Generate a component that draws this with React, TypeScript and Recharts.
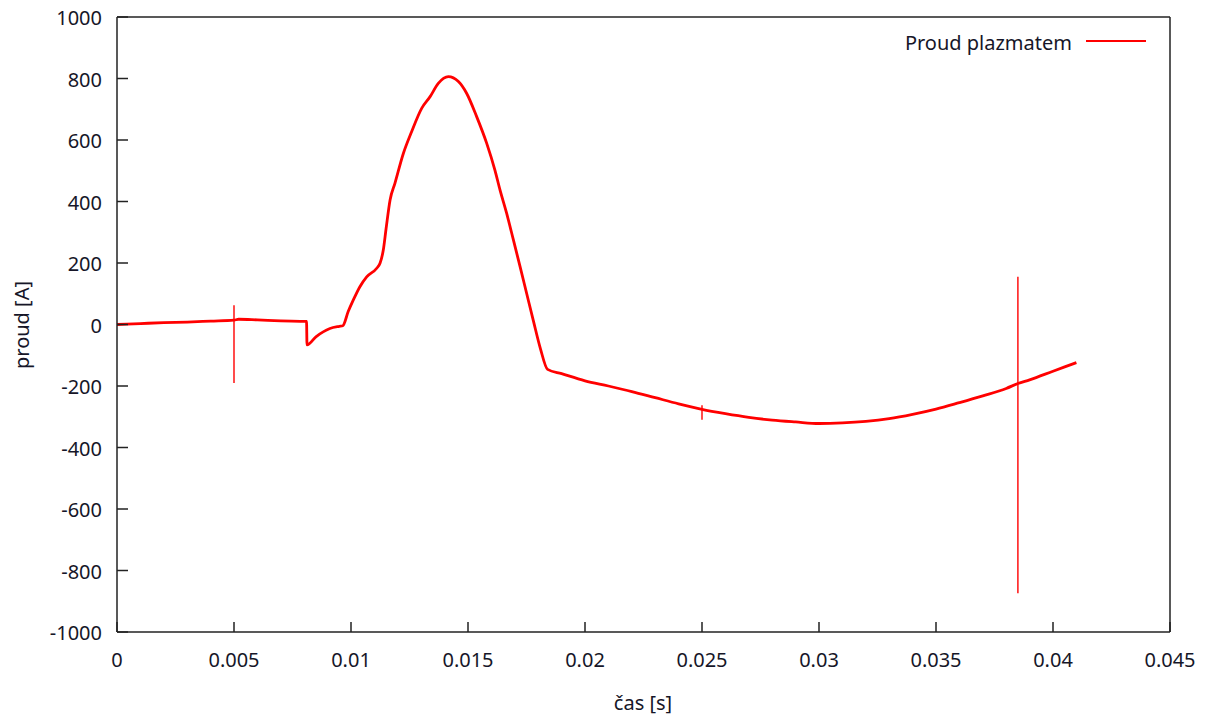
import React from 'react';
import { ComposedChart, Line, XAxis, YAxis } from 'recharts';

const TIME_S = [
  0, 0.001, 0.002, 0.003, 0.004, 0.005, 0.0052, 0.006, 0.007, 0.0081, 0.00812, 0.0085, 0.0091, 0.0095,
  0.00965, 0.00988, 0.0101, 0.01038, 0.01067, 0.0111, 0.01124, 0.01138, 0.0115, 0.01167, 0.01188, 0.01224,
  0.01259, 0.01302, 0.01338, 0.01373, 0.01416, 0.01459, 0.01494, 0.01537, 0.0158, 0.01615, 0.01637, 0.01665,
  0.01694, 0.01722, 0.01751, 0.0178, 0.0181, 0.0184, 0.019, 0.02, 0.021, 0.022, 0.023, 0.024, 0.025, 0.026,
  0.027, 0.028, 0.029, 0.03, 0.031, 0.032, 0.033, 0.034, 0.035, 0.036, 0.037, 0.038, 0.0385, 0.039, 0.04,
  0.041,
];
const CURRENT_A = [
  0, 3, 6, 8, 11, 14, 17, 15, 12, 10, -66, -40, -13, -6,
  -4, 42, 80, 123, 155, 183, 199, 242, 312, 405, 460, 557,
  627, 703, 741, 784, 806, 790, 752, 676, 589, 502, 437, 362,
  275, 190, 100, 10, -80, -146, -160, -183, -200, -218, -238, -258, -276, -290,
  -302, -311, -317, -322, -320, -315, -306, -292, -275, -254, -232, -208, -192, -180, -152,
  -124,
];

// short glitches in the record (drawn thinner)
const SPIKE_T = [0.005, 0.025, 0.0385];
const SPIKE_TOP = [63, -263, 155];
const SPIKE_BOTTOM = [-190, -310, -874];

const X_TICKS = [0, 0.005, 0.01, 0.015, 0.02, 0.025, 0.03, 0.035, 0.04, 0.045];
const Y_TICKS = [-1000, -800, -600, -400, -200, 0, 200, 400, 600, 800, 1000];

const FONT = '"Noto Sans", sans-serif';
const TEXT = '#161628';
const AXIS = '#222';
const RED = '#ff0000';

const mainData = TIME_S.map((t, i) => ({ t, i: CURRENT_A[i] }));
const spikeData = SPIKE_T.flatMap((t, k) => [
  { t, s: SPIKE_TOP[k] },
  { t, s: SPIKE_BOTTOM[k] },
  { t: t + 0.00001, s: null },
]);

const fmtX = (v: number) => String(Number(v.toFixed(3)));

const BottomTick = ({ x, y, payload }: any) => (
  <g>
    <line x1={x} y1={y} x2={x} y2={y - 10} stroke={AXIS} strokeWidth={1.5} />
    <text x={x} y={y + 35} textAnchor="middle" fill={TEXT} fontSize={20} fontFamily={FONT}>
      {fmtX(payload.value)}
    </text>
  </g>
);

const TopTick = ({ x, y }: any) => (
  <line x1={x} y1={y} x2={x} y2={y + 10} stroke={AXIS} strokeWidth={1.5} />
);

const LeftTick = ({ x, y, payload }: any) => (
  <g>
    <line x1={x} y1={y} x2={x + 11} y2={y} stroke={AXIS} strokeWidth={1.5} />
    <text x={x - 15} y={y + 8} textAnchor="end" fill={TEXT} fontSize={20} fontFamily={FONT}>
      {payload.value}
    </text>
  </g>
);

const RightTick = ({ x, y }: any) => (
  <line x1={x} y1={y} x2={x - 11} y2={y} stroke={AXIS} strokeWidth={1.5} />
);

const KeyBox = () => (
  <g>
    <text x={1072} y={50} textAnchor="end" fill={TEXT} fontSize={20} fontFamily={FONT}>
      Proud plazmatem
    </text>
    <line x1={1086} y1={41} x2={1146} y2={41} stroke={RED} strokeWidth={1.8} />
  </g>
);

export default function App() {
  return (
    <div style={{ position: 'absolute', left: 0, top: 0, width: 1208, height: 722, background: '#fff' }}>
      <ComposedChart width={1208} height={722} margin={{ top: 7, right: 0, bottom: 0, left: 0 }}>
        <XAxis
          xAxisId="b"
          dataKey="t"
          type="number"
          domain={[0, 0.045]}
          ticks={X_TICKS}
          interval={0}
          allowDataOverflow
          height={90}
          tickSize={0}
          tickMargin={0}
          tickLine={false}
          axisLine={{ stroke: AXIS, strokeWidth: 1.5 }}
          tick={<BottomTick />}
          label={{
            content: () => (
              <text x={643} y={710} textAnchor="middle" fill={TEXT} fontSize={20} fontFamily={FONT}>
                čas [s]
              </text>
            ),
          }}
        />
        <XAxis
          xAxisId="top"
          orientation="top"
          dataKey="t"
          type="number"
          domain={[0, 0.045]}
          ticks={X_TICKS}
          interval={0}
          height={10}
          tickSize={0}
          tickMargin={0}
          tickLine={false}
          axisLine={{ stroke: AXIS, strokeWidth: 1.5 }}
          tick={<TopTick />}
          label={{ content: () => <KeyBox /> }}
        />
        <YAxis
          yAxisId="l"
          type="number"
          domain={[-1000, 1000]}
          ticks={Y_TICKS}
          interval={0}
          allowDataOverflow
          width={117}
          tickSize={0}
          tickMargin={0}
          tickLine={false}
          axisLine={{ stroke: AXIS, strokeWidth: 1.5 }}
          tick={<LeftTick />}
          label={{
            content: () => (
              <text
                x={29}
                y={325}
                transform="rotate(-90 29 325)"
                textAnchor="middle"
                fill={TEXT}
                fontSize={20}
                fontFamily={FONT}
              >
                proud [A]
              </text>
            ),
          }}
        />
        <YAxis
          yAxisId="r"
          orientation="right"
          type="number"
          domain={[-1000, 1000]}
          ticks={Y_TICKS}
          interval={0}
          width={38}
          tickSize={0}
          tickMargin={0}
          tickLine={false}
          axisLine={{ stroke: AXIS, strokeWidth: 1.5 }}
          tick={<RightTick />}
        />
        <Line
          xAxisId="b"
          yAxisId="l"
          data={spikeData}
          dataKey="s"
          type="linear"
          stroke={RED}
          strokeWidth={1.4}
          dot={false}
          connectNulls={false}
          legendType="none"
          isAnimationActive={false}
        />
        <Line
          xAxisId="b"
          yAxisId="l"
          data={mainData}
          dataKey="i"
          name="Proud plazmatem"
          type="monotone"
          stroke={RED}
          strokeWidth={2.8}
          strokeLinejoin="round"
          dot={false}
          isAnimationActive={false}
        />
      </ComposedChart>
    </div>
  );
}
